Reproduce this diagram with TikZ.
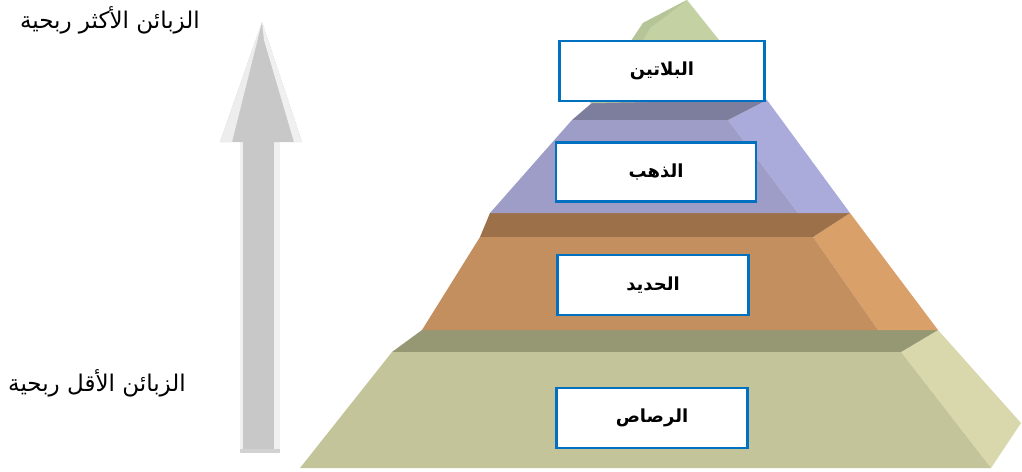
\documentclass[tikz,border=0pt]{standalone}
\usepackage{fontspec}
\setmainfont{Liberation Sans}
\newfontfamily\arabicfont[Script=Arabic]{DejaVu Sans}
\TeXXeTstate=1
\usetikzlibrary{positioning}
\definecolor{boxblue}{RGB}{0,112,192}
\definecolor{leadfront}{RGB}{196,196,154}
\definecolor{leadtop}{RGB}{150,151,115}
\definecolor{leadside}{RGB}{216,216,172}
\definecolor{ironfront}{RGB}{196,143,95}
\definecolor{irontop}{RGB}{156,112,72}
\definecolor{ironside}{RGB}{218,160,106}
\definecolor{goldfront}{RGB}{157,157,200}
\definecolor{goldtop}{RGB}{125,125,158}
\definecolor{goldside}{RGB}{171,171,219}
\definecolor{platfront}{RGB}{182,197,152}
\definecolor{platside}{RGB}{195,209,163}
\definecolor{arrowgray}{RGB}{200,200,200}

\begin{document}
\begin{tikzpicture}[
  x=1pt, y=-1pt,
  tierbox/.style={draw=boxblue, line width=2.6pt, fill=white, inner sep=0pt,
                  minimum width=191pt, minimum height=60pt,
                  font=\arabicfont\bfseries\fontsize{18}{22}\selectfont},
  sidelabel/.style={anchor=east, inner sep=0pt,
                    font=\arabicfont\fontsize{23}{28}\selectfont}
]
\useasboundingbox (0,0) rectangle (1022,471);

% arrow
\fill[arrowgray] (240,140) rectangle (280,453);
\fill[gray!12] (274,140) rectangle (280,453);
\fill[gray!12] (240,140) rectangle (243,453);
\fill[gray!35] (240,449) rectangle (280,453);
\fill[arrowgray] (220,142) -- (262,22) -- (302,142) -- cycle;
\fill[gray!14] (220,142) -- (262,22) -- (232,142) -- cycle;
\fill[gray!12] (262,22) -- (302,142) -- (294,142) -- (264,40) -- cycle;

% lead
\fill[leadside] (901,352) -- (938,330) -- (1021,423) -- (991,468) -- cycle;
\fill[leadtop] (422,330) -- (938,330) -- (901,352) -- (392,352) -- cycle;
\fill[leadfront] (392,352) -- (901,352) -- (991,468) -- (300,468) -- cycle;
% iron
\fill[ironside] (813,237) -- (850,213) -- (938,330) -- (878,330) -- cycle;
\fill[irontop] (490,213) -- (850,213) -- (813,237) -- (480,237) -- cycle;
\fill[ironfront] (480,237) -- (813,237) -- (878,330) -- (422,330) -- cycle;
% gold
\fill[goldside] (728,120) -- (767,100) -- (850,213) -- (798,213) -- cycle;
\fill[goldtop] (593,102) -- (767,100) -- (728,120) -- (572,120) -- cycle;
\fill[goldfront] (572,120) -- (728,120) -- (798,213) -- (490,213) -- cycle;
% platinum
\fill[platside] (590,103) -- (643,23) -- (687,0) -- (767,100) -- cycle;
\fill[platfront] (590,103) -- (643,23) -- (687,0) -- (650,28) -- (606,103) -- cycle;

\node[tierbox, minimum width=205pt] (platinum) at (662,71) {\beginR البلاتين\endR};
\node[tierbox, minimum width=200pt, minimum height=59pt] (gold) at (656,172) {\beginR الذهب\endR};
\node[tierbox] (iron) at (653,285) {\beginR الحديد\endR};
\node[tierbox] (lead) at (652,418) {\beginR الرصاص\endR};

\node[sidelabel] (most) at (200,20) {\beginR الزبائن الأكثر ربحية\endR};
\node[sidelabel] (least) at (186,383) {\beginR الزبائن الأقل ربحية\endR};
\end{tikzpicture}
\end{document}
